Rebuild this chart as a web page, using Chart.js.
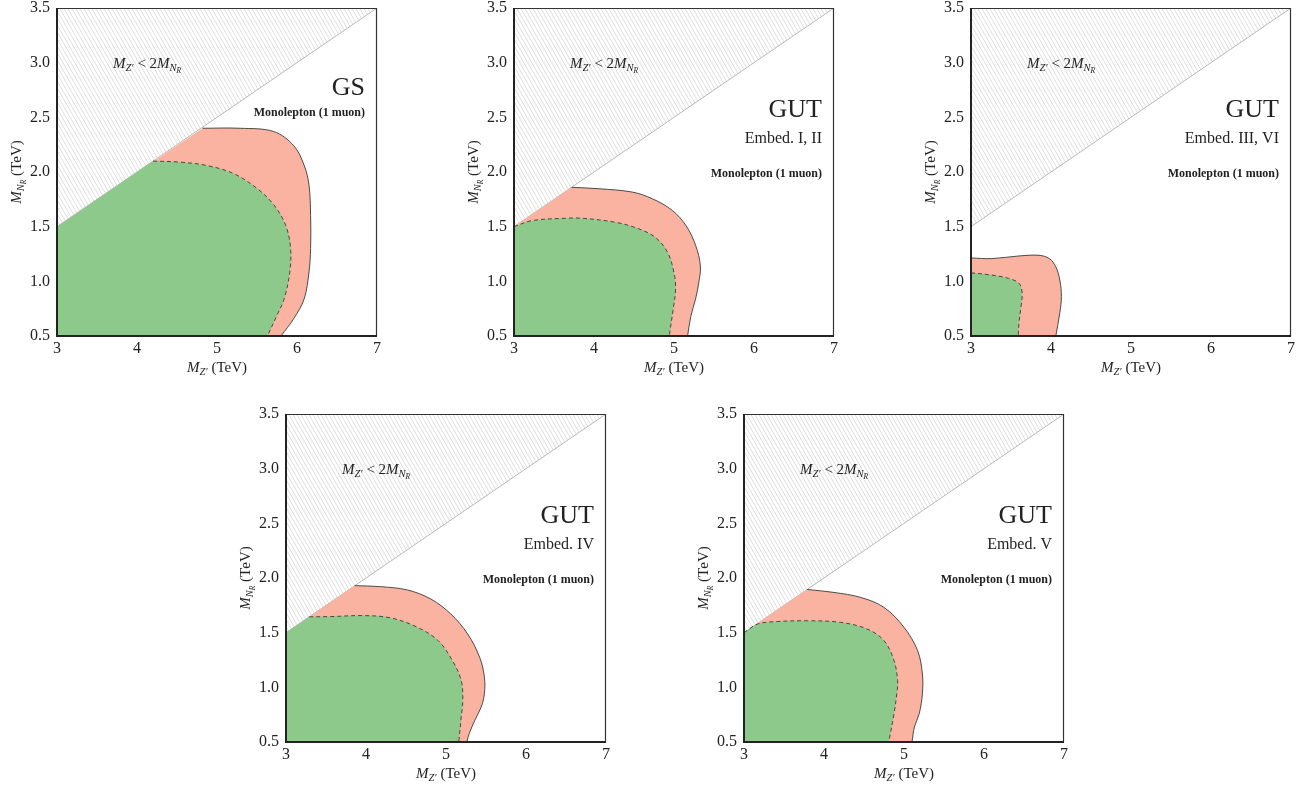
<!DOCTYPE html>
<html>
<head>
<meta charset="utf-8">
<script src="https://cdn.jsdelivr.net/npm/chart.js@4.4.1/dist/chart.umd.min.js"></script>
<style>
  body { margin: 0; width: 1310px; height: 792px; position: relative; overflow: hidden; background: #fff; }
  canvas { position: absolute; }
</style>
</head>
<body>
<canvas id="c0" width="385" height="388" style="left:7px;top:-7px"></canvas>
<canvas id="c1" width="385" height="388" style="left:464px;top:-7px"></canvas>
<canvas id="c2" width="385" height="388" style="left:921px;top:-7px"></canvas>
<canvas id="c3" width="385" height="388" style="left:236px;top:399px"></canvas>
<canvas id="c4" width="385" height="388" style="left:694px;top:399px"></canvas>
<script>
const panelTitles = ['GS', 'GUT', 'GUT', 'GUT', 'GUT'];
const panelSubtitles = ['', 'Embed. I, II', 'Embed. III, VI', 'Embed. IV', 'Embed. V'];
const channel = 'Monolepton (1 muon)';

const xRange = [3, 7];
const yRange = [0.5, 3.5];
const xTickLabels = ['3', '4', '5', '6', '7'];
const yTickLabels = ['0.5', '1.0', '1.5', '2.0', '2.5', '3.0', '3.5'];

// M_Z' = 2 M_NR, above it the region is excluded (hatched)
const kinematicEdge = [[3, 1.5], [7, 3.5]];

// outer contour (red, solid) and inner contour (green, dashed), [M_Z', M_NR] in TeV
const gsOuter = [[4.82, 2.40], [5.29, 2.40], [5.71, 2.37], [5.96, 2.24], [6.09, 2.06], [6.15, 1.88],
  [6.17, 1.60], [6.17, 1.30], [6.15, 1.085], [6.09, 0.84], [5.96, 0.66], [5.80, 0.5]];
const gsInner = [[4.2, 2.10], [4.54, 2.09], [4.87, 2.06], [5.21, 1.985], [5.50, 1.85], [5.71, 1.70],
  [5.86, 1.51], [5.92, 1.30], [5.91, 1.085], [5.84, 0.84], [5.75, 0.69], [5.63, 0.5]];

const gut12Outer = [[3.72, 1.86], [4.06, 1.847], [4.48, 1.816], [4.73, 1.755], [4.98, 1.648], [5.15, 1.51],
  [5.27, 1.33], [5.33, 1.14], [5.31, 0.99], [5.27, 0.84], [5.21, 0.68], [5.17, 0.5]];
const gut12Inner = [[3.0, 1.5], [3.23, 1.556], [3.65, 1.577], [3.85, 1.577], [4.27, 1.54], [4.56, 1.48],
  [4.77, 1.40], [4.92, 1.265], [5.0, 1.08], [5.02, 0.93], [4.99, 0.745], [4.94, 0.5]];

const gut36Outer = [[3.0, 1.214], [3.26, 1.208], [3.60, 1.232], [3.85, 1.238], [3.98, 1.208], [4.06, 1.133],
  [4.11, 1.012], [4.13, 0.861], [4.11, 0.711], [4.06, 0.5]];
const gut36Inner = [[3.0, 1.078], [3.26, 1.057], [3.47, 1.027], [3.60, 0.982], [3.64, 0.89], [3.62, 0.741],
  [3.60, 0.62], [3.59, 0.5]];

const gut4Outer = [[3.86, 1.93], [4.18, 1.921], [4.52, 1.89], [4.81, 1.808], [5.06, 1.671], [5.27, 1.489],
  [5.42, 1.276], [5.48, 1.093], [5.48, 0.941], [5.44, 0.82], [5.36, 0.698], [5.29, 0.576], [5.26, 0.5]];
const gut4Inner = [[3.29, 1.645], [3.55, 1.647], [3.97, 1.656], [4.31, 1.635], [4.64, 1.55], [4.90, 1.428],
  [5.08, 1.245], [5.19, 1.063], [5.21, 0.88], [5.19, 0.728], [5.16, 0.5]];

const gut5Outer = [[3.79, 1.895], [4.125, 1.868], [4.46, 1.822], [4.75, 1.731], [5.0, 1.549], [5.17, 1.336],
  [5.23, 1.123], [5.23, 0.941], [5.19, 0.758], [5.13, 0.637], [5.10, 0.5]];
const gut5Inner = [[3.0, 1.5], [3.17, 1.579], [3.375, 1.60], [3.79, 1.609], [4.21, 1.594], [4.54, 1.533],
  [4.75, 1.427], [4.875, 1.245], [4.92, 1.062], [4.91, 0.941], [4.875, 0.758], [4.81, 0.5]];

const outers = [gsOuter, gut12Outer, gut36Outer, gut4Outer, gut5Outer];
const inners = [gsInner, gut12Inner, gut36Inner, gut4Inner, gut5Inner];

const SERIF = '"Liberation Serif", "Times New Roman", serif';
const TENSION = 0.35;

// hatch pattern for the excluded region
function hatch() {
  const w = 4, h = 7;
  const c = document.createElement('canvas');
  c.width = w; c.height = h;
  const g = c.getContext('2d');
  g.strokeStyle = '#c6c6c6';
  g.lineWidth = 0.6;
  g.beginPath();
  for (let k = -2; k <= 2; k++) {
    g.moveTo(k * w, 0);
    g.lineTo(k * w + w, h);
  }
  g.stroke();
  return g.createPattern(c, 'repeat');
}

const toXY = arr => arr.map(([x, y]) => ({ x, y }));

// closed polygon: along the kinematic edge (if needed), the contour, then back by the bottom-left corner
// points are doubled at the corners so the spline keeps them sharp
function region(curve) {
  const pts = [];
  if (curve[0][0] > xRange[0]) pts.push(kinematicEdge[0], curve[0]);
  pts.push(...curve, curve[curve.length - 1], [xRange[0], yRange[0]]);
  return toXY(pts);
}

function rich(ctx, parts, x, y, align) {
  const font = p => `${p[2]} ${p[1]}px ${SERIF}`;
  let w = 0;
  parts.forEach(p => { ctx.font = font(p); w += ctx.measureText(p[0]).width; });
  let cx = align === 'center' ? x - w / 2 : align === 'right' ? x - w : x;
  parts.forEach(p => {
    ctx.font = font(p);
    ctx.fillText(p[0], cx, y + p[3]);
    cx += ctx.measureText(p[0]).width;
  });
}

const edgeLabel = [['M', 15, 'italic', 0], ['Z\u2032', 10.5, 'italic', 3], [' < 2', 15, '', 0],
  ['M', 15, 'italic', 0], ['N', 10.5, 'italic', 3], ['R', 7.5, 'italic', 5]];
const xTitle = [['M', 15, 'italic', 0], ['Z\u2032', 10.5, 'italic', 3], [' (TeV)', 15, '', 0]];
const yTitle = [['M', 15, 'italic', 0], ['N', 10.5, 'italic', 3], ['R', 7.5, 'italic', 5], [' (TeV)', 15, '', 0]];

const decor = {
  id: 'decor',
  afterDraw(chart, args, opts) {
    const { ctx, chartArea: a } = chart;
    ctx.save();
    // frame: thin top/right, heavier left/bottom axis lines on top of the fills
    ctx.strokeStyle = '#333';
    ctx.lineWidth = 1.2;
    ctx.beginPath();
    ctx.moveTo(a.left, a.top + 0.5);
    ctx.lineTo(a.right - 0.5, a.top + 0.5);
    ctx.lineTo(a.right - 0.5, a.bottom);
    ctx.stroke();
    ctx.strokeStyle = '#222';
    ctx.lineWidth = 2;
    ctx.beginPath();
    ctx.moveTo(a.left, a.top);
    ctx.lineTo(a.left, a.bottom);
    ctx.lineTo(a.right, a.bottom);
    ctx.stroke();

    ctx.fillStyle = '#222';
    ctx.textBaseline = 'alphabetic';
    rich(ctx, edgeLabel, a.left + 56, a.top + 60, 'left');

    const rx = a.right - 12;
    const i = opts.panel;
    if (panelSubtitles[i]) {
      rich(ctx, [[panelTitles[i], 26, '', 0]], rx, a.top + 109, 'right');
      rich(ctx, [[panelSubtitles[i], 16, '', 0]], rx, a.top + 135, 'right');
      rich(ctx, [[channel, 12, 'bold', 0]], rx, a.top + 169, 'right');
    } else {
      rich(ctx, [[panelTitles[i], 26, '', 0]], rx, a.top + 87, 'right');
      rich(ctx, [[channel, 12, 'bold', 0]], rx, a.top + 108, 'right');
    }

    rich(ctx, xTitle, (a.left + a.right) / 2, a.bottom + 36, 'center');
    ctx.translate(a.left - 36, (a.top + a.bottom) / 2);
    ctx.rotate(-Math.PI / 2);
    rich(ctx, yTitle, 0, 0, 'center');
    ctx.restore();
  }
};

const pattern = hatch();

outers.forEach((outer, i) => {
  const inner = inners[i];
  new Chart(document.getElementById('c' + i), {
    type: 'line',
    data: {
      datasets: [
        { // excluded region
          data: toXY(kinematicEdge), fill: 'end', backgroundColor: pattern,
          borderColor: '#a8a8a8', borderWidth: 0.8, order: 10
        },
        { // outer region
          data: region(outer), fill: 'shape', backgroundColor: '#fab3a1',
          borderWidth: 0, borderColor: 'rgba(0,0,0,0)', tension: TENSION, order: 8
        },
        { // inner region
          data: region(inner), fill: 'shape', backgroundColor: '#8dc98a',
          borderWidth: 0, borderColor: 'rgba(0,0,0,0)', tension: TENSION, order: 6
        },
        {
          data: toXY(outer), fill: false, borderColor: '#3a3a3a', borderWidth: 0.9,
          tension: TENSION, order: 4
        },
        {
          data: toXY(inner), fill: false, borderColor: '#3a3a3a', borderWidth: 0.9,
          borderDash: [4, 3], tension: TENSION, order: 2
        }
      ]
    },
    options: {
      responsive: false,
      animation: false,
      events: [],
      layout: { padding: { top: 0, right: 15, left: 0, bottom: 0 } },
      elements: { point: { radius: 0 } },
      plugins: {
        legend: { display: false },
        tooltip: { enabled: false },
        decor: { panel: i }
      },
      scales: {
        x: {
          type: 'linear', min: xRange[0], max: xRange[1],
          afterBuildTicks: s => { s.ticks = xTickLabels.map(t => ({ value: parseFloat(t) })); },
          afterFit: s => { s.height = 45; },
          grid: { display: false, drawTicks: false },
          border: { display: false },
          ticks: {
            padding: 5, color: '#222', maxRotation: 0,
            font: { family: SERIF, size: 16, lineHeight: 1 },
            callback: v => xTickLabels.find(t => parseFloat(t) === v)
          }
        },
        y: {
          type: 'linear', min: yRange[0], max: yRange[1],
          afterBuildTicks: s => { s.ticks = yTickLabels.map(t => ({ value: parseFloat(t) })); },
          afterFit: s => { s.width = 50; },
          grid: { display: false, drawTicks: false },
          border: { display: false },
          ticks: {
            padding: 7, color: '#222',
            font: { family: SERIF, size: 16, lineHeight: 1 },
            callback: v => yTickLabels.find(t => parseFloat(t) === v)
          }
        }
      }
    },
    plugins: [decor]
  });
});
</script>
</body>
</html>
